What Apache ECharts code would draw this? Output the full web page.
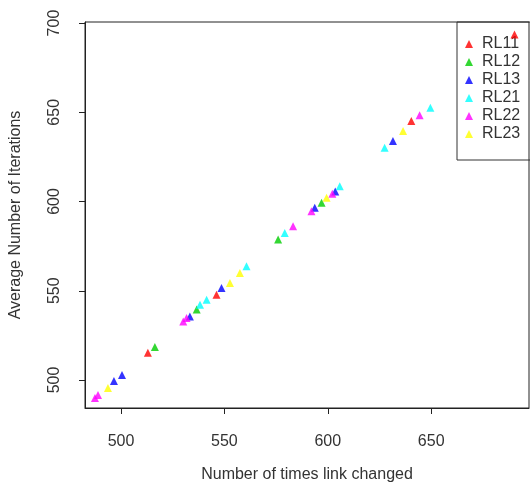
<!DOCTYPE html>
<html>
<head>
<meta charset="utf-8">
<script src="https://cdn.jsdelivr.net/npm/echarts@6/dist/echarts.min.js"></script>
<style>
html,body{margin:0;padding:0;background:#fff;}
#chart{width:530px;height:490px;}
</style>
</head>
<body>
<div id="chart"></div>
<script>
// Data: [number of times link changed, average number of iterations]
const seriesNames = ['RL11', 'RL12', 'RL13', 'RL21', 'RL22', 'RL23'];
const RL11 = [[513.0, 515.2], [546.2, 547.8], [640.4, 645.1], [690.3, 693.6]];
const RL12 = [[516.4, 518.5], [536.6, 539.5], [576.0, 578.7], [597.0, 599.3]];
const RL13 = [[496.6, 499.4], [500.5, 502.8], [533.3, 535.6], [548.6, 551.5], [593.7, 596.5], [603.6, 605.6], [631.5, 633.9]];
const RL21 = [[538.2, 542.1], [541.4, 544.9], [560.7, 563.7], [579.2, 582.4], [605.8, 608.6], [627.5, 630.2], [649.6, 652.6]];
const RL22 = [[487.4, 489.9], [488.9, 491.6], [530.1, 532.8], [531.7, 534.7], [583.2, 586.1], [592.1, 594.6], [602.2, 604.4], [644.4, 648.3]];
const RL23 = [[493.7, 495.5], [552.7, 554.3], [557.5, 560.0], [599.4, 602.1], [636.4, 639.5]];
const seriesData = [RL11, RL12, RL13, RL21, RL22, RL23];
const xTicks = [500, 550, 600, 650];
const yTicks = [500, 550, 600, 650, 700];
const xTitle = 'Number of times link changed';
const yTitle = 'Average Number of Iterations';

const colors = ['#FF0000', '#00CD00', '#0000FF', '#00FFFF', '#FF00FF', '#FFFF00'];
const font = 'Liberation Sans, Arial, sans-serif';
const textColor = '#333';

const chart = echarts.init(document.getElementById('chart'), null, {renderer: 'canvas'});
chart.setOption({
  animation: false,
  backgroundColor: '#fff',
  color: colors,
  grid: {
    left: 85, top: 22, right: 1, bottom: 82,
    show: true, borderColor: '#222', borderWidth: 1, backgroundColor: 'transparent'
  },
  legend: {
    data: seriesNames,
    orient: 'vertical',
    left: 457, top: 22,
    padding: [14, 20, 18, 8],
    itemGap: 2,
    itemWidth: 8, itemHeight: 8,
    borderColor: '#333', borderWidth: 1, borderRadius: 0,
    textStyle: {fontFamily: font, fontSize: 16, color: textColor, padding: [0, 0, 0, 4]},
    selectedMode: false
  },
  xAxis: {
    type: 'value',
    min: 482.6, max: 697.3,
    name: xTitle, nameLocation: 'middle', nameGap: 59,
    nameTextStyle: {fontFamily: font, fontSize: 16, color: textColor},
    axisLine: {show: true, onZero: false, lineStyle: {color: '#222'}},
    axisTick: {show: true, inside: false, length: 6, customValues: xTicks, lineStyle: {color: '#222'}},
    axisLabel: {customValues: xTicks, margin: 26, fontFamily: font, fontSize: 16, color: textColor},
    splitLine: {show: false}
  },
  yAxis: {
    type: 'value',
    min: 484.3, max: 700.6,
    name: yTitle, nameLocation: 'middle', nameGap: 61, nameRotate: 90,
    nameTextStyle: {fontFamily: font, fontSize: 16, color: textColor},
    axisLine: {show: true, onZero: false, lineStyle: {color: '#222'}},
    axisTick: {show: true, inside: false, length: 6, customValues: yTicks, lineStyle: {color: '#222'}},
    axisLabel: {customValues: yTicks, rotate: 90, margin: 22, fontFamily: font, fontSize: 16, color: textColor},
    splitLine: {show: false}
  },
  series: seriesNames.map((name, i) => ({
    name: name,
    type: 'scatter',
    symbol: 'triangle',
    symbolSize: 8,
    z: 5,
    data: seriesData[i]
  }))
});
</script>
</body>
</html>
